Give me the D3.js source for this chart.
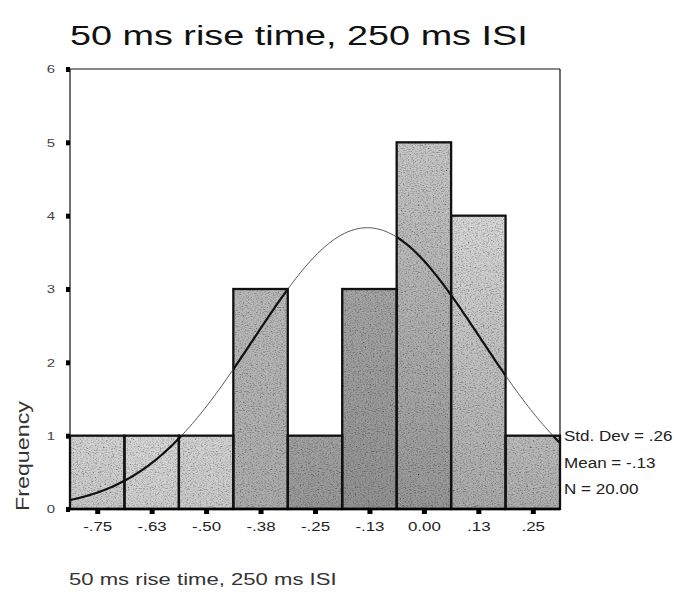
<!DOCTYPE html>
<html>
<head>
<meta charset="utf-8">
<script src="https://cdn.jsdelivr.net/npm/d3@7"></script>
<style>
  html, body { margin: 0; padding: 0; background: #fff; }
  svg { display: block; }
  text { font-family: "Liberation Sans", Arial, sans-serif; }
</style>
</head>
<body>
<svg id="chart" width="674" height="594"></svg>
<script>
// ---- data ----
const binCenters = [-0.75, -0.625, -0.5, -0.375, -0.25, -0.125, 0.0, 0.125, 0.25];
const tickLabels = ["-.75", "-.63", "-.50", "-.38", "-.25", "-.13", "0.00", ".13", ".25"];
const frequencies = [1, 1, 1, 3, 1, 3, 5, 4, 1];
const yTicks = [0, 1, 2, 3, 4, 5, 6];
const binWidth = 0.125;
const statMean = -0.13;
const statSD = 0.26;
const statN = 20;
const statLabels = ["Std. Dev = .26", "Mean = -.13", "N = 20.00"];
const chartTitle = "50 ms rise time, 250 ms ISI";
const xTitle = "50 ms rise time, 250 ms ISI";
const yTitle = "Frequency";

// ---- styles (per bar shading, top -> bottom) ----
const shadeTop    = ["#d4d4d4", "#d8d8d8", "#d4d4d4", "#bababa", "#a2a2a2", "#a6a6a6", "#c8c8c8", "#d8d8d8", "#bcbcbc"];
const shadeBottom = ["#cacaca", "#cecece", "#cacaca", "#acacac", "#989898", "#929292", "#979797", "#aaaaaa", "#aeaeae"];
const stretch = 1.3; // the scanned figure's text is horizontally wide

const svg = d3.select("#chart");
const L = 70, R = 560, T = 69, B = 509;

const x = d3.scaleLinear()
  .domain([binCenters[0] - binWidth / 2, binCenters[binCenters.length - 1] + binWidth / 2])
  .range([L, R]);
const y = d3.scaleLinear().domain([0, 6]).range([B, T]);

const defs = svg.append("defs");

// grain filter to mimic scanned texture
const f = defs.append("filter").attr("id", "grain")
  .attr("x", 0).attr("y", 0).attr("width", 1).attr("height", 1);
f.append("feTurbulence").attr("type", "fractalNoise").attr("baseFrequency", "0.6 0.95")
  .attr("numOctaves", 2).attr("seed", 7).attr("result", "noise");
f.append("feColorMatrix").attr("in", "noise").attr("type", "matrix")
  .attr("values", "0.9 0.9 0.9 0 -0.45  0.9 0.9 0.9 0 -0.45  0.9 0.9 0.9 0 -0.45  0 0 0 0 1")
  .attr("result", "gray");
f.append("feBlend").attr("in", "SourceGraphic").attr("in2", "gray").attr("mode", "multiply").attr("result", "blend");
f.append("feComposite").attr("in", "blend").attr("in2", "SourceGraphic").attr("operator", "in");

binCenters.forEach((c, i) => {
  const g = defs.append("linearGradient").attr("id", "gr" + i)
    .attr("gradientUnits", "userSpaceOnUse")
    .attr("x1", 0).attr("x2", 0).attr("y1", y(frequencies[i])).attr("y2", y(0));
  g.append("stop").attr("offset", 0).attr("stop-color", shadeTop[i]);
  g.append("stop").attr("offset", 1).attr("stop-color", shadeBottom[i]);
});

const barX = d => x(d - binWidth / 2);
const barW = d => x(d + binWidth / 2) - x(d - binWidth / 2);
const barY = (d, i) => y(frequencies[i]);
const barH = (d, i) => y(0) - y(frequencies[i]);

// clip path made of the bars (for the darker curve segment over bars)
defs.append("clipPath").attr("id", "barsClip")
  .selectAll("rect").data(binCenters).join("rect")
  .attr("x", barX).attr("width", barW).attr("y", barY).attr("height", barH);

// frame (top & right)
svg.append("line").attr("x1", L).attr("x2", R).attr("y1", T).attr("y2", T)
  .attr("stroke", "#111").attr("stroke-width", 1.2);
svg.append("line").attr("x1", R).attr("x2", R).attr("y1", T).attr("y2", B)
  .attr("stroke", "#111").attr("stroke-width", 1.2);

// bars
svg.append("g").selectAll("rect").data(binCenters).join("rect")
  .attr("x", barX).attr("width", barW).attr("y", barY).attr("height", barH)
  .attr("fill", (d, i) => `url(#gr${i})`)
  .attr("filter", "url(#grain)");
svg.append("g").selectAll("rect").data(binCenters).join("rect")
  .attr("x", barX).attr("width", barW).attr("y", barY).attr("height", barH)
  .attr("fill", "none").attr("stroke", "#111").attr("stroke-width", 2.3);

// normal curve from reported mean, SD, N
const peak = statN * binWidth / (statSD * Math.sqrt(2 * Math.PI));
const xs = d3.range(0, 201).map(k => x.domain()[0] + k * (x.domain()[1] - x.domain()[0]) / 200);
const curve = xs.map(v => [v, peak * Math.exp(-0.5 * Math.pow((v - statMean) / statSD, 2))]);
const line = d3.line().x(d => x(d[0])).y(d => y(d[1])).curve(d3.curveBasis);
svg.append("path").attr("d", line(curve)).attr("fill", "none")
  .attr("stroke", "#444").attr("stroke-width", 0.9);
svg.append("path").attr("d", line(curve)).attr("fill", "none")
  .attr("stroke", "#111").attr("stroke-width", 2.2).attr("clip-path", "url(#barsClip)");

// axes
const yAxis = d3.axisLeft(y).tickValues(yTicks).tickFormat(d3.format("d")).tickSize(4).tickPadding(7.5);
const gy = svg.append("g").attr("transform", `translate(${L},0)`).call(yAxis);
gy.select(".domain").attr("stroke", "#111").attr("stroke-width", 1.2).attr("d", `M0,${B}V${T}`);
gy.selectAll(".tick line").attr("stroke", "#000").attr("stroke-width", 5);
gy.selectAll(".tick text").attr("font-size", 11.5).attr("fill", "#444")
  .attr("font-family", "'Liberation Sans', Arial, sans-serif")
  .attr("transform", `scale(${stretch},1)`);

const xAxis = d3.axisBottom(x).tickValues(binCenters).tickFormat((d, i) => tickLabels[i]).tickSize(5).tickPadding(8);
const gx = svg.append("g").attr("transform", `translate(0,${B})`).call(xAxis);
gx.select(".domain").attr("stroke", "#000").attr("stroke-width", 2.5).attr("d", `M${L - 2},0H${R}`);
gx.selectAll(".tick line").attr("stroke", "#000").attr("stroke-width", 5);
gx.selectAll(".tick text").attr("font-size", 13).attr("fill", "#222")
  .attr("font-family", "'Liberation Sans', Arial, sans-serif")
  .attr("transform", `scale(${stretch},1)`);

// stats
svg.append("g").selectAll("text").data(statLabels).join("text")
  .attr("transform", (d, i) => `translate(564,${441 + i * 26.5}) scale(1.1,1)`)
  .attr("font-size", 15.5).attr("fill", "#222").text(d => d);

// titles
svg.append("text").attr("transform", "translate(70,45) scale(1.4,1)")
  .attr("font-size", 27).attr("fill", "#111").text(chartTitle);
svg.append("text").attr("transform", `translate(69,585) scale(${stretch},1)`)
  .attr("font-size", 17).attr("fill", "#333").text(xTitle);
svg.append("text").attr("transform", "translate(29,456) rotate(-90)").attr("text-anchor", "middle")
  .attr("font-size", 19).attr("textLength", 110).attr("lengthAdjust", "spacingAndGlyphs")
  .attr("fill", "#333").text(yTitle);
</script>
</body>
</html>
